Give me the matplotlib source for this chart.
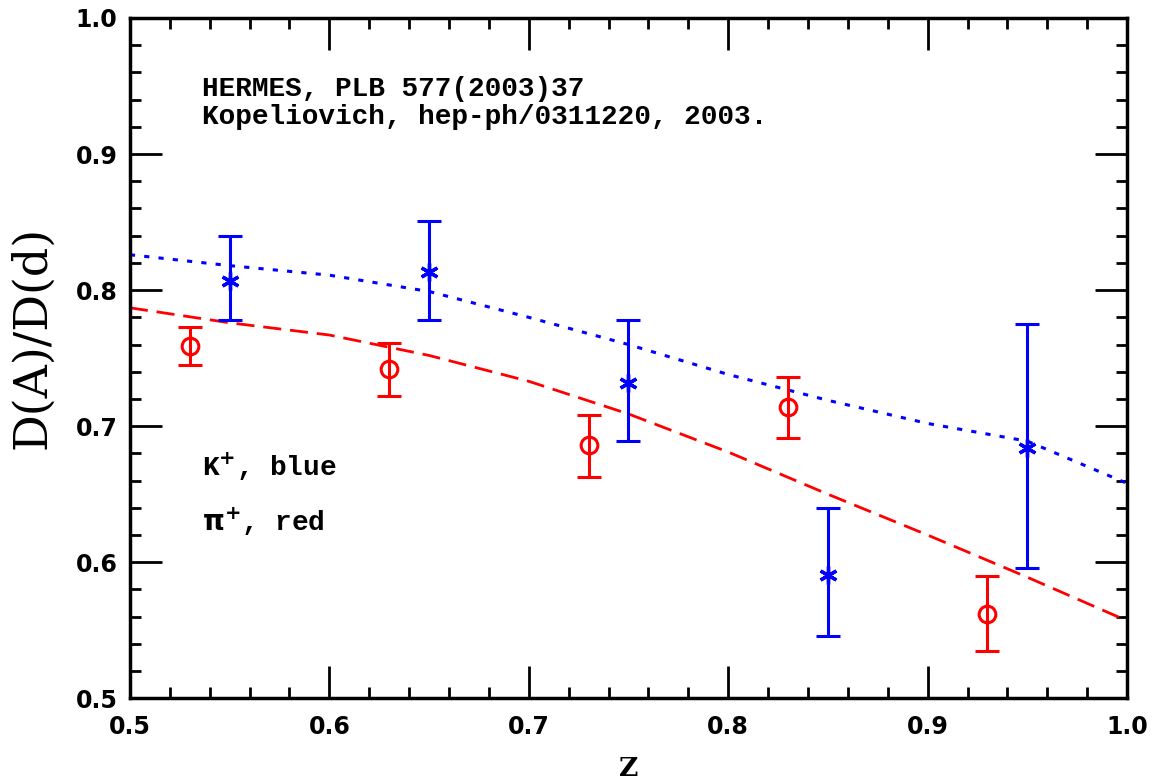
import numpy as np
import matplotlib
matplotlib.use("Agg")
import matplotlib.pyplot as plt
from matplotlib.ticker import MultipleLocator

# pi+ data (red circles)
z_pi = [0.53, 0.63, 0.73, 0.83, 0.93]
r_pi = [0.759, 0.742, 0.686, 0.714, 0.562]
r_pi_lo = [0.745, 0.722, 0.663, 0.691, 0.535]
r_pi_hi = [0.773, 0.761, 0.708, 0.736, 0.590]

# K+ data (blue stars)
z_k = [0.55, 0.65, 0.75, 0.85, 0.95]
r_k = [0.807, 0.813, 0.732, 0.591, 0.684]
r_k_lo = [0.778, 0.778, 0.689, 0.546, 0.596]
r_k_hi = [0.840, 0.851, 0.778, 0.640, 0.775]

# model curves
z_curve = [0.50, 0.55, 0.60, 0.65, 0.70, 0.75, 0.80, 0.85, 0.90, 0.95, 1.00]
k_curve = [0.826, 0.818, 0.811, 0.799, 0.780, 0.760, 0.738, 0.719, 0.702, 0.689, 0.658]
pi_curve = [0.787, 0.776, 0.767, 0.752, 0.733, 0.709, 0.681, 0.650, 0.620, 0.589, 0.557]

fig = plt.figure(figsize=(11.6, 7.82), dpi=100)
ax = fig.add_axes([0.112, 0.107, 0.8596, 0.870])

ax.plot(z_curve, k_curve, color="blue", ls=(0, (1.7, 3.0)), lw=2.2)
ax.plot(z_curve, pi_curve, color="red", ls=(0, (6.5, 3.2)), lw=2.0)

err_pi = [np.array(r_pi) - np.array(r_pi_lo), np.array(r_pi_hi) - np.array(r_pi)]
ax.errorbar(z_pi, r_pi, yerr=err_pi, fmt="o", color="red", mfc="none", mec="red",
            ms=12, mew=2.2, elinewidth=2.2, capsize=8.5, capthick=2.2)
err_k = [np.array(r_k) - np.array(r_k_lo), np.array(r_k_hi) - np.array(r_k)]
ax.errorbar(z_k, r_k, yerr=err_k, fmt="none", color="blue", elinewidth=2.2,
            capsize=8.5, capthick=2.2)
ax.plot(z_k, r_k, ls="none", marker=(6, 2, 0), ms=13, mew=2.4, color="blue")

ax.set_xlim(0.5, 1.0)
ax.set_ylim(0.5, 1.0)
ax.xaxis.set_major_locator(MultipleLocator(0.1))
ax.xaxis.set_minor_locator(MultipleLocator(0.02))
ax.yaxis.set_major_locator(MultipleLocator(0.1))
ax.yaxis.set_minor_locator(MultipleLocator(0.02))
ax.xaxis.set_major_formatter(plt.FuncFormatter(lambda v, p: f"{v:.1f}"))
ax.yaxis.set_major_formatter(plt.FuncFormatter(lambda v, p: f"{v:.1f}"))
ax.tick_params(which="both", direction="in", top=True, right=True, width=2,
               labelsize=17)
ax.tick_params(axis="x", pad=12)
ax.tick_params(axis="y", pad=9)
ax.tick_params(which="major", length=23)
ax.tick_params(which="minor", length=8)
for lab in ax.get_xticklabels() + ax.get_yticklabels():
    lab.set_fontweight("bold")
for s in ax.spines.values():
    s.set_linewidth(2.5)

ax.set_xlabel("Z", fontsize=19, family="DejaVu Serif", fontweight="bold", labelpad=12)
ax.set_ylabel("D(A)/D(d)", fontsize=33, family="DejaVu Serif")
ax.yaxis.set_label_coords(-0.075, 0.53)

mono = dict(fontsize=20, family="Liberation Mono", fontweight="bold", va="center")
ax.text(0.536, 0.948, "HERMES, PLB 577(2003)37", **mono)
ax.text(0.536, 0.927, "Kopeliovich, hep-ph/0311220, 2003.", **mono)
ax.text(0.536, 0.670, r"K$^{\mathbf{+}}$, blue", **mono)
ax.text(0.536, 0.630, r"$\mathbf{\pi}^{\mathbf{+}}$, red", **mono)

fig.savefig("out.png", dpi=100)
